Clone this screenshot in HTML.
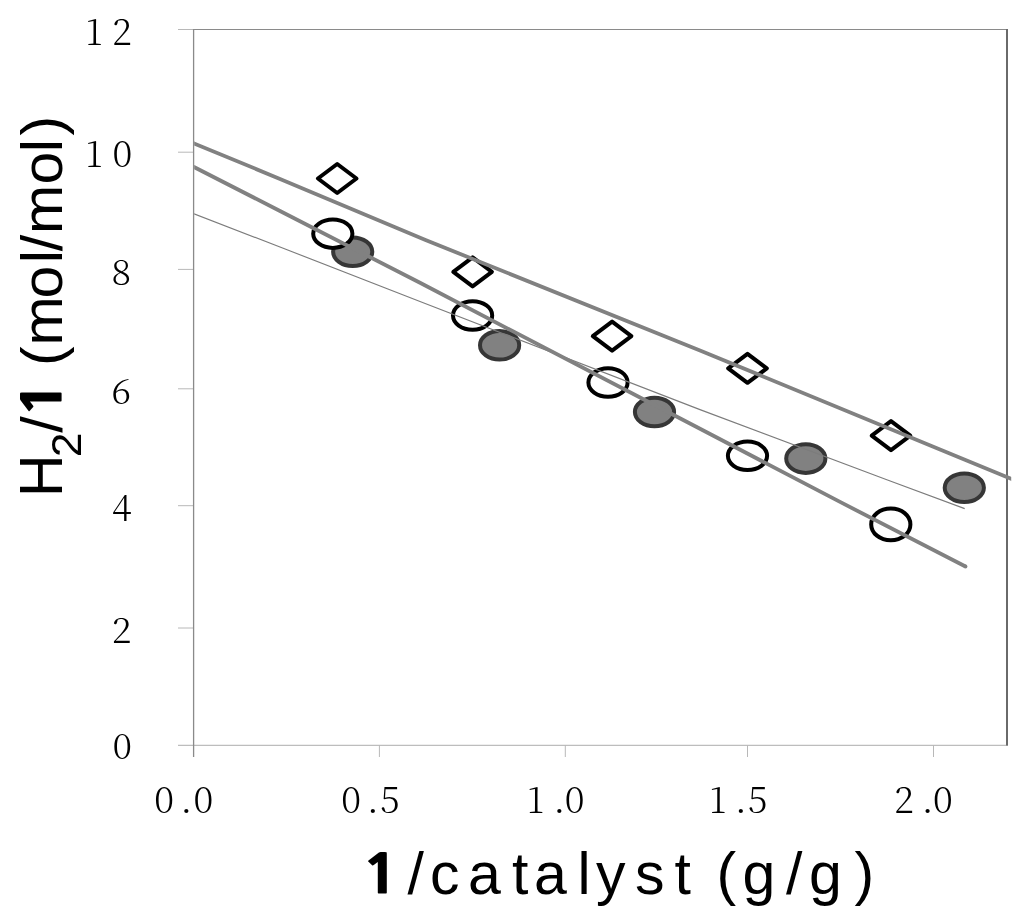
<!DOCTYPE html>
<html lang="en">
<head>
<meta charset="utf-8">
<title>H2/1 vs 1/catalyst</title>
<style>
  html, body { margin: 0; padding: 0; background: #ffffff; }
  body { width: 1024px; height: 915px; overflow: hidden; }
  svg { display: block; filter: blur(0.55px); }
  .tick { font-family: "Noto Serif CJK SC", "Liberation Serif", serif; font-weight: 300; font-size: 36px; fill: #000; }
  .ttl  { font-family: "Liberation Sans", sans-serif; font-size: 59px; fill: #000; }
  .b    { font-family: "NanumGothic", "Liberation Sans", sans-serif; font-weight: 800; }
</style>
</head>
<body>
<svg width="1024" height="915" viewBox="0 0 1024 915">
  <rect x="0" y="0" width="1024" height="915" fill="#ffffff"/>

  <!-- plot frame -->
  <g fill="none">
    <!-- bottom axis -->
    <line x1="178" y1="745.3" x2="1008" y2="745.3" stroke="#bdbdbd" stroke-width="1.2"/>
    <!-- y ticks -->
    <g stroke="#b8b8b8" stroke-width="1">
      <line x1="178" y1="29.5" x2="193.5" y2="29.5"/>
      <line x1="178" y1="152.2" x2="193.5" y2="152.2"/>
      <line x1="178" y1="269.4" x2="193.5" y2="269.4"/>
      <line x1="178" y1="388.8" x2="193.5" y2="388.8"/>
      <line x1="178" y1="505.7" x2="193.5" y2="505.7"/>
      <line x1="178" y1="628" x2="193.5" y2="628"/>
    </g>
    <!-- x ticks -->
    <g stroke="#b8b8b8" stroke-width="1">
      <line x1="379.4" y1="745" x2="379.4" y2="757"/>
      <line x1="565.3" y1="745" x2="565.3" y2="757"/>
      <line x1="747.5" y1="745" x2="747.5" y2="757"/>
      <line x1="933.5" y1="745" x2="933.5" y2="757"/>
    </g>
    <!-- top border -->
    <line x1="193" y1="29.5" x2="1008" y2="29.5" stroke="#8a8a8a" stroke-width="1.2"/>
    <!-- left axis -->
    <line x1="193.6" y1="29" x2="193.6" y2="757" stroke="#8a8a8a" stroke-width="1.3"/>
    <!-- right border -->
    <line x1="1007" y1="29" x2="1007" y2="745.6" stroke="#6a6a6a" stroke-width="2"/>
  </g>

  <!-- y tick labels -->
  <g class="tick">
    <text y="44.6" x="85.6 111.9">12</text>
    <text y="167.1" x="85.6 112.4">10</text>
    <text y="284.5" x="111.5">8</text>
    <text y="403.5" x="111.5">6</text>
    <text y="520.4" x="112.1">4</text>
    <text y="643.0" x="111.9">2</text>
    <text y="759.3" x="112.4">0</text>
  </g>

  <!-- x tick labels -->
  <g class="tick">
    <text y="813.2" x="154.3 180.4 193.6">0.0</text>
    <text y="813.2" x="341.3 366.9 380">0.5</text>
    <text y="813.2" x="527.1 553.5 564.7">1.0</text>
    <text y="813.2" x="709.2 735.1 747.7">1.5</text>
    <text y="813.2" x="894.1 921.8 933.1">2.0</text>
  </g>

  <!-- markers: filled circles -->
  <g fill="#818181" stroke="#363636" stroke-width="4">
    <ellipse cx="352.7" cy="251.7" rx="19.6" ry="14.3"/>
    <ellipse cx="499.6" cy="345.3" rx="19.6" ry="14.3"/>
    <ellipse cx="654.5" cy="412" rx="19.6" ry="14.3"/>
    <ellipse cx="805.8" cy="458.6" rx="19.6" ry="14.3"/>
    <ellipse cx="964.3" cy="487.8" rx="19.6" ry="14.3"/>
  </g>

  <!-- markers: open circles -->
  <g fill="#ffffff" stroke="#000000" stroke-width="4">
    <ellipse cx="332.8" cy="233.7" rx="19.6" ry="14.2"/>
    <ellipse cx="472.6" cy="315.5" rx="19.6" ry="14.2"/>
    <ellipse cx="608" cy="382.5" rx="19.6" ry="14.2"/>
    <ellipse cx="747.5" cy="455.8" rx="19.6" ry="14.2"/>
    <ellipse cx="890.8" cy="524.4" rx="19.6" ry="15.9"/>
  </g>

  <!-- markers: diamonds -->
  <g fill="none" stroke="#000000" stroke-width="4" stroke-linejoin="round">
    <polygon points="337.2,164.0 356.5,178.5 337.2,193.0 317.9,178.5"/>
    <polygon points="472.6,257.4 491.9,271.9 472.6,286.4 453.3,271.9"/>
    <polygon points="612.1,321.6 631.4,336.1 612.1,350.6 592.8,336.1"/>
    <polygon points="747.5,353.8 766.8,368.3 747.5,382.8 728.2,368.3"/>
    <polygon points="891,421.1 910.3,435.6 891,450.1 871.7,435.6"/>
  </g>

  <!-- trend lines -->
  <clipPath id="plotclip"><rect x="194.2" y="20" width="817" height="740"/></clipPath>
  <g fill="none" stroke="#818181" stroke-linecap="butt" clip-path="url(#plotclip)">
    <polyline stroke-width="1.15" stroke="#7c7c7c" points="190,212.4 194,213.9 280,247 420,301.5 700,409.6 887.5,480 964.7,508.6"/>
    <polyline stroke-width="3.8" points="190,141.8 194,143.4 280,178.9 425.5,240 700,350.4 940,449.6 1011,478.7 1016,480.8"/>
    <polyline stroke-width="3.8" points="190,165.0 194,167.0 280,211 420,282.8 700,428.8 840,501.9 965.5,566.5"/>
    <circle cx="965.5" cy="566.5" r="1.9" fill="#818181" stroke="none"/>
  </g>

  <!-- y axis title -->
  <g transform="translate(61.5,497) rotate(-90)">
    <text class="ttl" transform="scale(1,1.02)" x="0" y="0">H</text>
    <text class="ttl" transform="scale(1,0.975)" x="39.75 64.3" y="0"><tspan font-size="44.5" dy="19.5">2</tspan><tspan dy="-19.5">/</tspan></text>
    <text class="b" font-size="54" transform="translate(78.75,-0.7) scale(1.22,1)" x="0" y="0">1</text>
    <text class="ttl" transform="scale(1,0.975)" x="130.9 151.4 198.5 233.8 245.7 262.9 312.6 344.8 361.6" y="0">(mol/mol)</text>
  </g>

  <!-- x axis title -->
  <text class="b" font-size="54" transform="translate(361,893) scale(1.22,1)" x="0" y="0">1</text>
  <text class="ttl" y="894.3" x="407.5 430 468 512 534 577.5 596 635 674.5 690 716.5 742.5 786 809 854.5">/catalyst (g/g)</text>
</svg>
</body>
</html>
